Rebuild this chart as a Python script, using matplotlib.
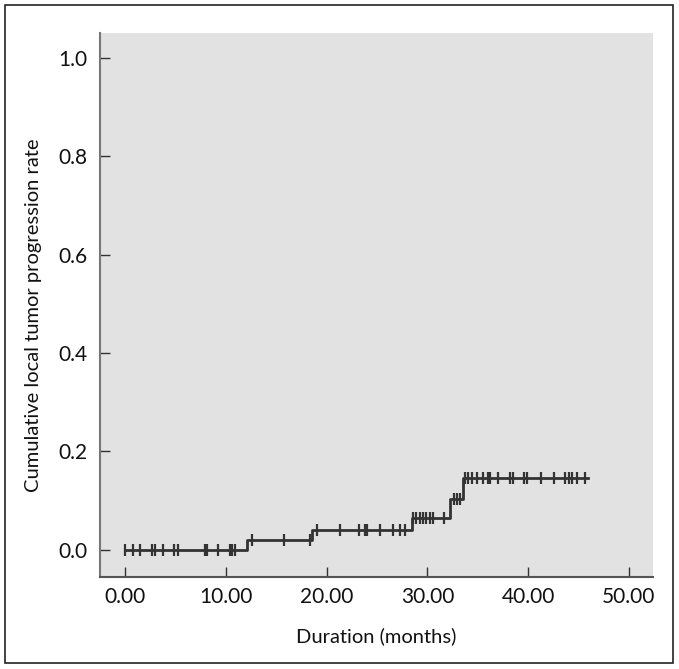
import matplotlib
matplotlib.use("Agg")
import matplotlib.pyplot as plt
from matplotlib.patches import Rectangle

# Step curve: event times and cumulative rate after each step
step_times = [0.0, 12.1, 18.5, 28.45, 32.2, 33.5]
step_levels = [0.0, 0.020, 0.041, 0.064, 0.103, 0.147]
end_time = 45.9

# Censored observations (time, level)
cens_0 = [0.0, 0.73, 1.49, 2.65, 2.98, 3.8, 4.86, 5.29, 7.94, 8.1, 9.25, 10.4, 10.6, 10.9]
cens_1 = [12.57, 15.8, 18.35]
cens_2 = [19.08, 21.33, 23.2, 23.8, 24.04, 25.3, 26.6, 27.28, 27.78]
cens_3 = [28.6, 28.9, 29.3, 29.6, 29.9, 30.3, 30.6, 31.7]
cens_4 = [32.6, 32.9, 33.2]
cens_5 = [33.7, 34.06, 34.4, 34.9, 35.5, 36.0, 36.2, 37.0, 38.2, 38.5, 39.6, 39.9,
          41.3, 42.6, 43.7, 44.05, 44.4, 44.9, 45.6]
cens_groups = [cens_0, cens_1, cens_2, cens_3, cens_4, cens_5]

xticks = [0, 10, 20, 30, 40, 50]
xtick_labels = ["0.00", "10.00", "20.00", "30.00", "40.00", "50.00"]
yticks = [0.0, 0.2, 0.4, 0.6, 0.8, 1.0]
ytick_labels = ["0.0", "0.2", "0.4", "0.6", "0.8", "1.0"]

plt.rcParams['font.family'] = ['Lato', 'DejaVu Sans']

W, H = 679, 669
fig = plt.figure(figsize=(W / 100, H / 100), dpi=100)
fig.patch.set_facecolor("white")
fig.add_artist(Rectangle((5 / W, 1 - 663 / H), 668 / W, 658 / H, transform=fig.transFigure,
                         fill=False, edgecolor="#222222", linewidth=1.2))

ax = fig.add_axes([100 / W, 1 - 577 / H, 553 / W, 544 / H])
ax.set_facecolor("#e2e2e2")

xs = list(step_times) + [end_time]
ys = list(step_levels) + [step_levels[-1]]
ax.step(xs, ys, where="post", color="#333333", linewidth=2.0)
for lvl, grp in zip(step_levels, cens_groups):
    ax.plot(grp, [lvl] * len(grp), linestyle="none", marker="|", markersize=8,
            markeredgewidth=1.6, color="#333333")

ax.set_xlim(-2.5, 52.4)
ax.set_ylim(-0.055, 1.05)
ax.set_xticks(xticks)
ax.set_xticklabels(xtick_labels)
ax.set_yticks(yticks)
ax.set_yticklabels(ytick_labels)
ax.tick_params(direction="in", length=7, width=1, colors="#333333", labelsize=15,
               labelcolor="#111111")
ax.tick_params(axis="x", pad=7)
ax.tick_params(axis="y", pad=9)
for s in ["top", "right"]:
    ax.spines[s].set_visible(False)
ax.spines["left"].set_color("#777777")
ax.spines["left"].set_linewidth(1.5)
ax.spines["bottom"].set_color("#555555")
ax.spines["bottom"].set_linewidth(1.5)

ax.set_xlabel("Duration (months)", fontsize=14.5, color="#111111", labelpad=15)
ax.set_ylabel("Cumulative local tumor progression rate", fontsize=14.5, color="#111111")
ax.yaxis.set_label_coords(-0.105, 0.482)

fig.savefig("out.png", dpi=100)
